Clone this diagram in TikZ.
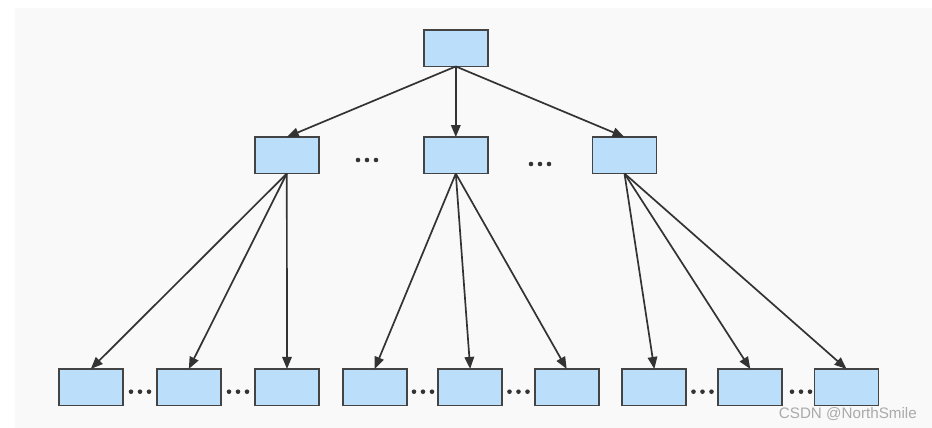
\documentclass[tikz,border=0pt]{standalone}
\usepackage{fontspec}
\usetikzlibrary{arrows.meta}
\definecolor{bgc}{RGB}{249,249,249}
\definecolor{boxfill}{RGB}{187,222,250}
\definecolor{boxline}{RGB}{68,68,68}
\definecolor{arr}{RGB}{51,51,51}
\definecolor{wm}{RGB}{170,170,170}
\newfontfamily\wmfont{Liberation Sans}
\begin{document}
\begin{tikzpicture}[x=1pt,y=-1pt,
  blk/.style={draw=boxline,line width=1.8pt,fill=boxfill,minimum width=64pt,minimum height=36.5pt,inner sep=0pt,outer sep=0pt},
  link/.style={draw=arr,line width=1.7pt,-{Triangle[length=12pt,width=9.5pt]},shorten >=0pt},
  dotc/.style={fill=arr,draw=none,circle,minimum size=4.6pt,inner sep=0pt}]
\useasboundingbox (0,0) rectangle (932,428);
\fill[bgc] (15,8) rectangle (932,428);
% top
\node[blk] (r) at (455.8,48.2) {};
% middle
\node[blk] (m1) at (286.8,155.3) {};
\node[blk] (m2) at (455.8,155.3) {};
\node[blk] (m3) at (624.5,155.3) {};
% bottom
\foreach \i/\x in {1/90.8,2/188.8,3/287,4/374.7,5/470.2,6/566.7,7/654.3,8/750.3,9/846.5}{
  \node[blk] (b\i) at (\x,387.2) {};
}
% arrows
\draw[link] (r.south) -- (m1.north);
\draw[link] (r.south) -- (m2.north);
\draw[link] (r.south) -- (m3.north);
\foreach \m/\b in {m1/b1,m1/b2,m1/b3,m2/b4,m2/b5,m2/b6,m3/b7,m3/b8,m3/b9}{
  \draw[link] (\m.south) -- (\b.north);
}
% dots middle row
\foreach \cx/\cy [count=\k] in {367/160,540/164}{
  \foreach \d [count=\j] in {-9,0,9}{
    \node[dotc] (md\k\j) at (\cx+\d,\cy) {};
  }
}
% dots bottom row
\foreach \cx [count=\k] in {140,238,423,518.5,702.5,801}{
  \foreach \d [count=\j] in {-9,0,9}{
    \node[dotc] (bd\k\j) at (\cx+\d,391.7) {};
  }
}
% watermark
\node[anchor=base east,inner sep=0pt,text=wm,font=\wmfont\fontsize{15.2}{17}\selectfont] (wmk) at (917,418) {CSDN @NorthSmile};
\end{tikzpicture}
\end{document}
